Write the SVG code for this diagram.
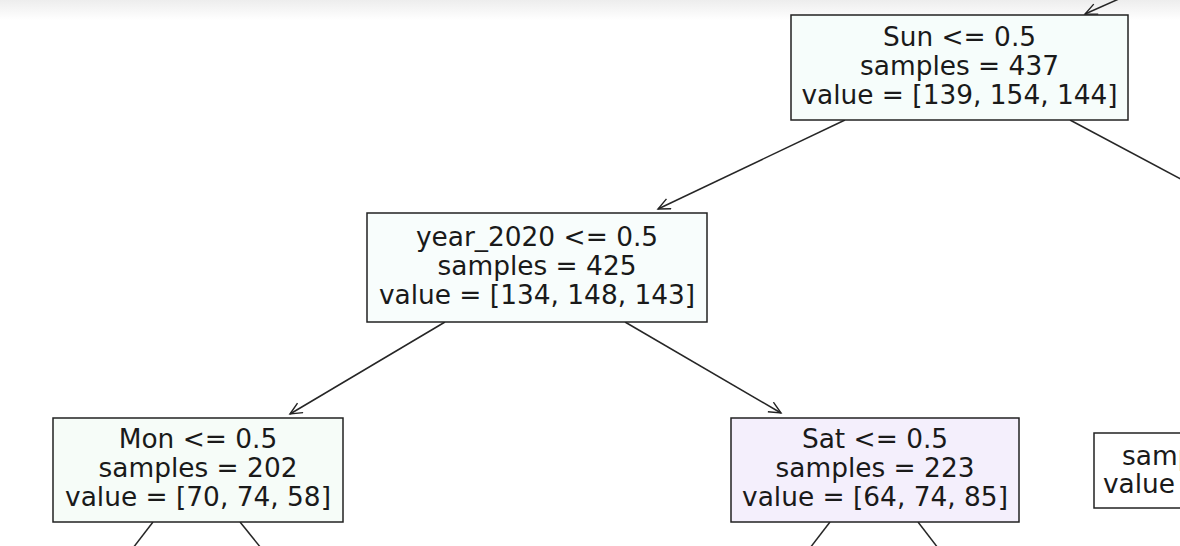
<svg xmlns="http://www.w3.org/2000/svg" width="1180" height="546" viewBox="0 0 1180 546">
<defs>
<linearGradient id="topShade" x1="0" y1="0" x2="0" y2="1">
<stop offset="0" stop-color="#ededed"/>
<stop offset="1" stop-color="#ffffff"/>
</linearGradient>
<marker id="arr" markerUnits="userSpaceOnUse" markerWidth="16" markerHeight="14" refX="13" refY="6" orient="auto">
<path d="M1,0.5 L13,6 L1,11.5" fill="none" stroke="#222" stroke-width="1.4"/>
</marker>
<style>
.box{stroke:#222;stroke-width:1.5}
.t{font-family:"DejaVu Sans",sans-serif;font-size:26.4px;fill:#1a1a1a;text-anchor:middle}
.tl{font-family:"DejaVu Sans",sans-serif;font-size:26.4px;fill:#1a1a1a}
.c{stroke:#262626;stroke-width:1.5;fill:none}
</style>
</defs>
<rect x="0" y="0" width="1180" height="546" fill="#ffffff"/>
<rect x="0" y="0" width="1180" height="20" fill="url(#topShade)"/>
<g id="connectors">
<line class="c" x1="1130" y1="-6" x2="1085" y2="14" marker-end="url(#arr)"/>
<line class="c" x1="845" y1="120" x2="658" y2="209" marker-end="url(#arr)"/>
<line class="c" x1="1070" y1="120" x2="1190" y2="184"/>
<line class="c" x1="445" y1="322" x2="290" y2="414" marker-end="url(#arr)"/>
<line class="c" x1="625" y1="322" x2="781" y2="413" marker-end="url(#arr)"/>
<line class="c" x1="153" y1="522" x2="133" y2="548"/>
<line class="c" x1="240" y1="522" x2="261" y2="548"/>
<line class="c" x1="830" y1="522" x2="810" y2="548"/>
<line class="c" x1="918" y1="522" x2="938" y2="548"/>
</g>
<g id="node-sun">
<rect class="box" x="791" y="15" width="337" height="105" fill="#f6fdfb"/>
<text class="t" x="959.5" y="46">Sun &lt;= 0.5</text>
<text class="t" x="959.5" y="75">samples = 437</text>
<text class="t" x="959.5" y="104">value = [139, 154, 144]</text>
</g>
<g id="node-year2020">
<rect class="box" x="367" y="213" width="340" height="109" fill="#f8fdfc"/>
<text class="t" x="537" y="246">year_2020 &lt;= 0.5</text>
<text class="t" x="537" y="275">samples = 425</text>
<text class="t" x="537" y="304">value = [134, 148, 143]</text>
</g>
<g id="node-mon">
<rect class="box" x="53" y="418" width="290" height="104" fill="#f6fcf8"/>
<text class="t" x="198" y="448">Mon &lt;= 0.5</text>
<text class="t" x="198" y="477">samples = 202</text>
<text class="t" x="198" y="506">value = [70, 74, 58]</text>
</g>
<g id="node-sat">
<rect class="box" x="731" y="418" width="288" height="104" fill="#f4effc"/>
<text class="t" x="875" y="448">Sat &lt;= 0.5</text>
<text class="t" x="875" y="477">samples = 223</text>
<text class="t" x="875" y="506">value = [64, 74, 85]</text>
</g>
<g id="node-leaf">
<rect class="box" x="1094" y="433" width="100" height="75" fill="#ffffff"/>
<text class="tl" x="1122" y="465">samp</text>
<text class="tl" x="1103" y="493">value</text>
</g>
</svg>
